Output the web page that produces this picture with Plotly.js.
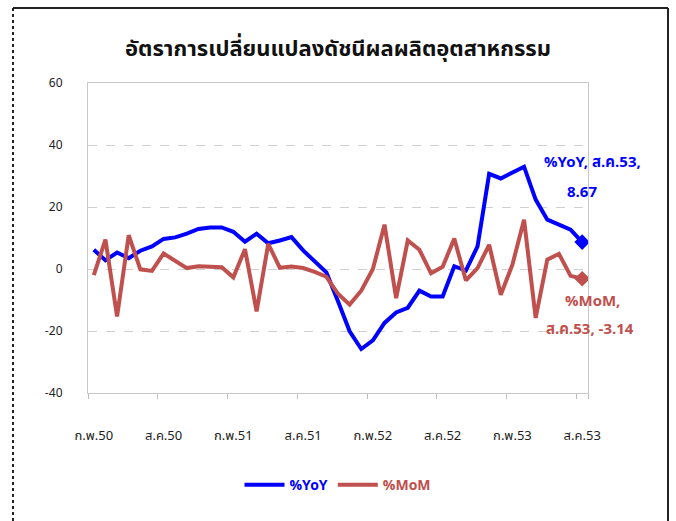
<!DOCTYPE html>
<html>
<head>
<meta charset="utf-8">
<script src="https://cdn.plot.ly/plotly-3.0.1.min.js"></script>
<style>html,body{margin:0;padding:0;background:#fff;}#chart{width:676px;height:521px;}</style>
</head>
<body>
<div id="chart"></div>
<script>
var months = [
  "ก.พ.50","มี.ค.50","เม.ย.50","พ.ค.50","มิ.ย.50","ก.ค.50","ส.ค.50","ก.ย.50","ต.ค.50","พ.ย.50","ธ.ค.50",
  "ม.ค.51","ก.พ.51","มี.ค.51","เม.ย.51","พ.ค.51","มิ.ย.51","ก.ค.51","ส.ค.51","ก.ย.51","ต.ค.51","พ.ย.51","ธ.ค.51",
  "ม.ค.52","ก.พ.52","มี.ค.52","เม.ย.52","พ.ค.52","มิ.ย.52","ก.ค.52","ส.ค.52","ก.ย.52","ต.ค.52","พ.ย.52","ธ.ค.52",
  "ม.ค.53","ก.พ.53","มี.ค.53","เม.ย.53","พ.ค.53","มิ.ย.53","ก.ค.53","ส.ค.53"
];
var yoy = [6.2, 2.8, 5.3, 3.5, 5.9, 7.3, 9.7, 10.2, 11.4, 12.9, 13.4, 13.4, 12.0, 8.8, 11.4, 8.3, 9.2, 10.3, 6.0, 2.5,
  -1.1, -10.4, -20.1, -25.8, -23.0, -17.4, -14.0, -12.5, -7.0, -8.9, -8.9, 0.9, -0.5, 7.3, 30.7, 29.2, 31.2, 33.0,
  22.4, 15.9, 14.3, 12.7, 8.67];
var mom = [-2.0, 9.5, -15.3, 10.9, -0.1, -0.6, 5.0, 2.5, 0.3, 0.9, 0.9, 0.6, -2.7, 6.4, -13.7, 8.1, 0.4, 0.8, 0.3, -0.9,
  -2.5, -8.0, -11.5, -7.0, 0.0, 14.3, -9.4, 9.2, 6.2, -1.4, 0.7, 9.8, -3.7, 0.3, 7.8, -8.3, 1.4, 15.9, -15.8, 3.0,
  4.9, -2.2, -3.14];
var tickLabels = ["ก.พ.50","ส.ค.50","ก.พ.51","ส.ค.51","ก.พ.52","ส.ค.52","ก.พ.53","ส.ค.53"];

var blue = "#0000FF", red = "#C0504D";
var FONT = "Tahoma, 'Noto Sans Thai', 'DejaVu Sans', sans-serif";
var lastIdx = months.length - 1;

var traces = [
  {x: months, y: yoy, type: "scatter", mode: "lines",
   name: "<b><span style='color:" + blue + "'>%YoY</span></b>", line: {color: blue, width: 4}},
  {x: months, y: mom, type: "scatter", mode: "lines",
   name: "<b><span style='color:" + red + "'>%MoM</span></b>", line: {color: red, width: 4}},
  {x: [months[lastIdx]], y: [yoy[lastIdx]], type: "scatter", mode: "markers", showlegend: false,
   marker: {symbol: "diamond", size: 12, color: blue}},
  {x: [months[lastIdx]], y: [mom[lastIdx]], type: "scatter", mode: "markers", showlegend: false,
   marker: {symbol: "diamond", size: 12, color: red}}
];

var layout = {
  width: 676, height: 521,
  margin: {l: 88, r: 88, t: 83, b: 128},
  paper_bgcolor: "#fff", plot_bgcolor: "#fff",
  showlegend: true,
  font: {family: FONT, size: 12, color: "#222"},
  title: {text: "<b>อัตราการเปลี่ยนแปลงดัชนีผลผลิตอุตสาหกรรม</b>", x: 0.5, xanchor: "center", y: 0.908, yanchor: "middle",
          font: {family: FONT, size: 22, color: "#111"}},
  xaxis: {type: "category", range: [-0.5, 42.5], tickmode: "array", tickvals: tickLabels, ticktext: tickLabels,
          tickson: "boundaries", ticks: "outside", ticklen: 5, tickcolor: "#bfbfbf", tickwidth: 1, tickangle: 0,
          showgrid: false, showline: true, linecolor: "#c8c8c8", linewidth: 1, mirror: true, zeroline: false,
          ticklabelstandoff: 30, tickfont: {family: FONT, size: 13, color: "#222"}},
  yaxis: {range: [-40, 60], dtick: 20, tick0: 0, showgrid: true, gridcolor: "#d0d0d0", griddash: "dash",
          showline: true, linecolor: "#c8c8c8", linewidth: 1, mirror: true, zeroline: false, ticks: "",
          ticklabelstandoff: 22, tickfont: {family: FONT, size: 12, color: "#222"}},
  legend: {orientation: "h", x: 0.5, xanchor: "center", y: -0.297, yanchor: "middle",
           font: {family: FONT, size: 14}, bgcolor: "rgba(0,0,0,0)", itemwidth: 40},
  annotations: [
    {x: months[lastIdx], y: yoy[lastIdx], xref: "x", yref: "y", text: "<b>%YoY, ส.ค.53,</b>", showarrow: false,
     xshift: 10, yshift: 80, font: {family: FONT, size: 15, color: blue}},
    {x: months[lastIdx], y: yoy[lastIdx], xref: "x", yref: "y", text: "<b>" + yoy[lastIdx].toFixed(2) + "</b>", showarrow: false,
     xshift: 0, yshift: 50, font: {family: FONT, size: 15, color: blue}},
    {x: months[lastIdx], y: mom[lastIdx], xref: "x", yref: "y", text: "<b>%MoM,</b>", showarrow: false,
     xshift: 10, yshift: -23, font: {family: FONT, size: 15, color: red}},
    {x: months[lastIdx], y: mom[lastIdx], xref: "x", yref: "y", text: "<b>ส.ค.53, " + mom[lastIdx].toFixed(2) + "</b>", showarrow: false,
     xshift: 8, yshift: -51, font: {family: FONT, size: 15, color: red}}
  ],
  shapes: [
    {type: "line", xref: "paper", yref: "paper", x0: -0.15, x1: 1.16, y0: 1.2419, y1: 1.2419, line: {color: "#222", width: 2}},
    {type: "line", xref: "paper", yref: "paper", x0: 1.16, x1: 1.16, y0: 1.2419, y1: -0.5, line: {color: "#222", width: 2}},
    {type: "line", xref: "paper", yref: "paper", x0: -0.15, x1: -0.15, y0: 1.2419, y1: -0.5, line: {color: "#222", width: 2, dash: "dot"}}
  ]
};

Plotly.newPlot("chart", traces, layout, {displayModeBar: false, staticPlot: true});
</script>
</body>
</html>
